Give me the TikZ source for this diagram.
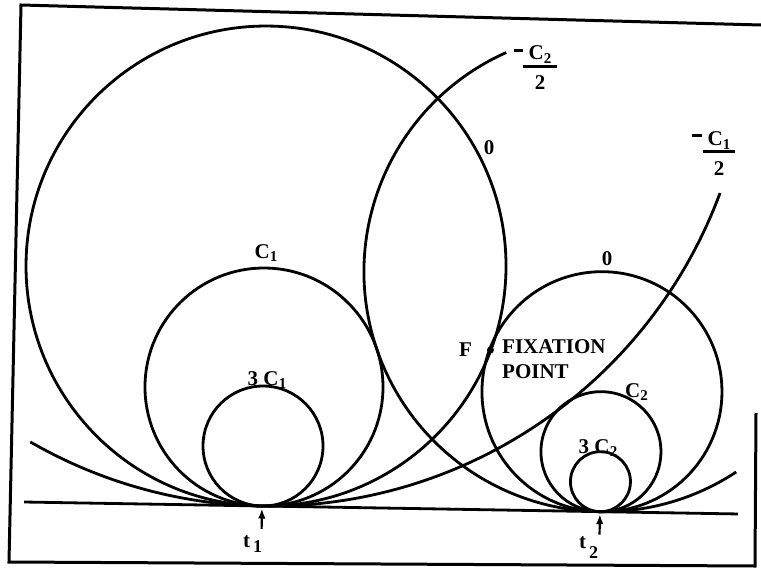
\documentclass[tikz,border=0pt]{standalone}
\usepackage{fontspec}
\setmainfont{Liberation Serif}
\usetikzlibrary{arrows.meta}
\newcommand{\lsub}[1]{\kern0.3pt\raisebox{-3.5pt}{\fontsize{15}{15}\selectfont #1}}
\begin{document}
\begin{tikzpicture}[x=1pt,y=-1pt,
  curve/.style={line width=2.8pt},
  framestyle/.style={line width=3pt, line join=miter},
  lab/.style={font=\fontsize{21}{25}\selectfont\bfseries, inner sep=0pt},
  tarrow/.style={line width=2.2pt, -{Latex[length=10pt,width=7.5pt]}, shorten >=2.5pt},
  fixdot/.style={circle, fill=black, inner sep=0pt, minimum size=7pt}]
\useasboundingbox (0,0) rectangle (761,576);
% frame
\draw[framestyle] (761,25) -- (21,5) -- (9,562) -- (755,566) -- (756,413);
\begin{scope}[rotate around={-0.96:(262,506)}]
  \coordinate (t1) at (262,506);
  \coordinate (t2) at (600,506);
  \coordinate (t1tail) at (262,529);
  \coordinate (t2tail) at (600,529);
  \coordinate (bl) at (24,506);
  \coordinate (br) at (738,506);
  % baseline
  \draw[curve] (bl) -- (br);
  % circles tangent at t1
  \draw[curve] (262,266) circle[radius=240];
  \draw[curve] (262,387) circle[radius=119];
  \draw[curve] (262,446) circle[radius=60];
  % circles tangent at t2
  \draw[curve] (600,386) circle[radius=120];
  \draw[curve] (600,446) circle[radius=60];
  \draw[curve] (600,476) circle[radius=30];
  % -C2/2 arc (tangent at t2)
  \draw[curve] (600,266) ++(245:240) arc[start angle=245, end angle=55.6, radius=240];
  % -C1/2 arc (tangent at t1)
  \draw[curve] (262,26) ++(119:480) arc[start angle=119, end angle=19.4, radius=480];
  % fixation point
  \node[fixdot] (F) at (487.8,346.2) {};
  % arrows
  \draw[tarrow] (t1tail) -- (t1);
  \draw[tarrow] (t2tail) -- (t2);
\end{scope}
% labels
\node[lab, anchor=base] (zeroA) at (489,154) {0};
\node[lab, anchor=base] (zeroB) at (607,265.5) {0};
\node[lab] (minC2) at (518.5,50.5) {\rule{9pt}{2.8pt}};
\node[lab, align=center] (fracC2) at (540,68) {C\lsub{2}\\[-17pt]\rule{34pt}{2.6pt}\\[-3pt]2};
\node[lab] (minC1) at (696.5,135.5) {\rule{10pt}{2.8pt}};
\node[lab, align=center] (fracC1) at (719,154) {C\lsub{1}\\[-18pt]\rule{32pt}{2.6pt}\\[-2pt]2};
\node[lab, anchor=base] (lC1) at (266,258) {C\lsub{1}};
\node[lab, anchor=base] (l3C1) at (267,385) {3 C\lsub{1}};
\node[lab, anchor=base] (lC2) at (636.5,397) {C\lsub{2}};
\node[lab, anchor=base] (l3C2) at (598,453) {3 C\lsub{2}};
\node[lab, anchor=base] (lF) at (465.5,356.5) {F};
\node[lab, anchor=north west, align=left] (lFP) at (502,339.4) {FIXATION\\POINT};
\node[lab, anchor=base west] (lt1) at (243,547) {t\kern3pt\raisebox{-5pt}{\fontsize{18}{18}\selectfont 1}};
\node[lab, anchor=base west] (lt2) at (579,548) {t\kern3pt\raisebox{-10pt}{\fontsize{18}{18}\selectfont 2}};
\end{tikzpicture}
\end{document}
